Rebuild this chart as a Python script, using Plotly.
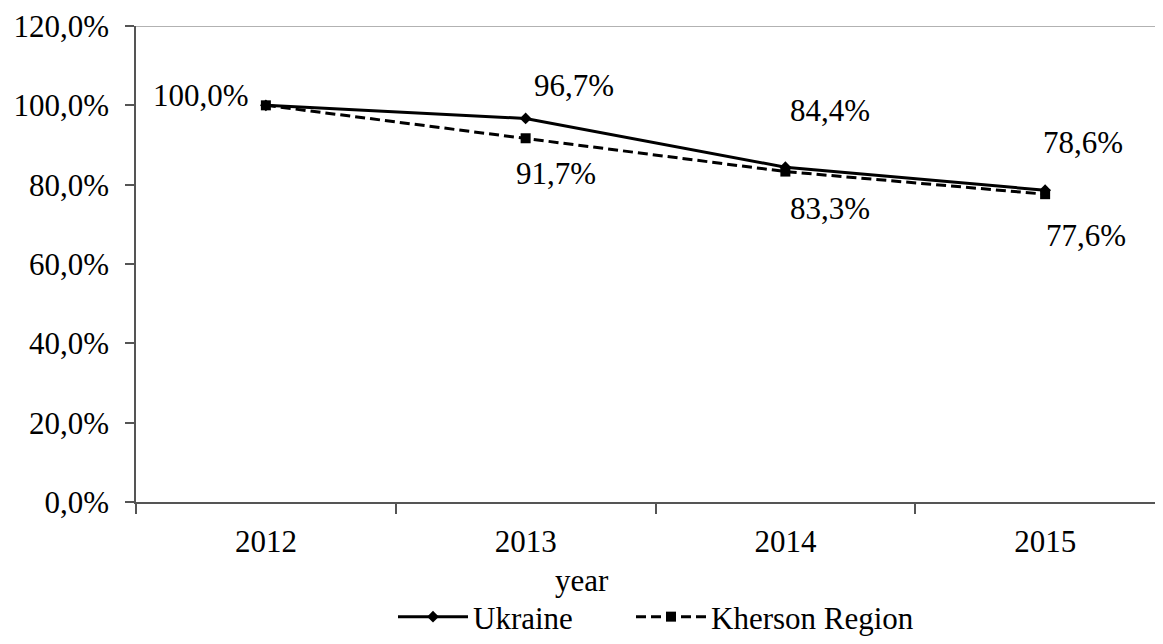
import plotly.graph_objects as go

years = ["2012", "2013", "2014", "2015"]
ukraine = [100.0, 96.7, 84.4, 78.6]
kherson = [100.0, 91.7, 83.3, 77.6]
y_ticks = [0, 20, 40, 60, 80, 100, 120]

FONT = "Liberation Serif"
FS = 31
xs = list(range(len(years)))

def fmt(v):
    return f"{v:.1f}%".replace(".", ",")

fig = go.Figure()
fig.add_trace(go.Scatter(
    x=xs, y=ukraine, name="Ukraine", mode="lines+markers",
    line=dict(color="black", width=3),
    marker=dict(symbol="diamond", size=9, color="black"),
    legend="legend",
))
fig.add_trace(go.Scatter(
    x=xs, y=kherson, name="Kherson Region", mode="lines+markers",
    line=dict(color="black", width=3, dash="10px,5px"),
    marker=dict(symbol="square", size=10, color="black"),
    legend="legend2",
))

# data labels: (series, index, xshift, yshift)
label_specs = [
    (ukraine, 0, -65, 10),
    (ukraine, 1, 48, 33),
    (ukraine, 2, 45, 57),
    (ukraine, 3, 38, 48),
    (kherson, 1, 30, -35),
    (kherson, 2, 45, -37),
    (kherson, 3, 41, -41),
]
for series, i, dx, dy in label_specs:
    fig.add_annotation(
        x=xs[i], y=series[i], text=fmt(series[i]), showarrow=False,
        xshift=dx, yshift=dy, font=dict(family=FONT, size=FS, color="black"),
    )

fig.add_annotation(
    x=0.434, y=-0.165, xref="paper", yref="paper", text="year", showarrow=False,
    font=dict(family=FONT, size=FS, color="black"), yanchor="middle",
)

# top line of plot area at max of y scale
fig.add_shape(type="line", xref="paper", yref="y", x0=0, x1=1,
              y0=y_ticks[-1], y1=y_ticks[-1], line=dict(color="#999999", width=1.5))

leg_common = dict(orientation="h", xanchor="left", y=-(609 - 494) / 476, yanchor="middle",
                  font=dict(family=FONT, size=FS), itemwidth=70,
                  bgcolor="rgba(0,0,0,0)")
fig.update_layout(
    width=1155, height=636,
    margin=dict(l=128, r=0, t=18, b=142, autoexpand=False),
    paper_bgcolor="white", plot_bgcolor="white",
    font=dict(family=FONT, size=FS, color="black"),
    showlegend=True,
    legend=dict(x=(393 - 136) / 1027, **leg_common),
    legend2=dict(x=(631 - 136) / 1027, **leg_common),
)
fig.update_xaxes(
    range=[-0.5, -0.5 + 1027 / 259.75], automargin=False,
    tickvals=xs, ticktext=years, ticks="", showgrid=False, zeroline=False,
    showline=True, linecolor="#555555", linewidth=1.5,
    ticklabelstandoff=11,
    minor=dict(tickvals=[-0.5, 0.5, 1.5, 2.5], ticks="outside", ticklen=10,
               tickcolor="#555555", tickwidth=1.5, showgrid=False),
)
fig.update_yaxes(
    range=[0, 120], tickvals=y_ticks, ticktext=[fmt(v) for v in y_ticks], automargin=False,
    ticks="outside", ticklen=9, tickcolor="#555555", tickwidth=1.5,
    showgrid=False, zeroline=False, showline=True, linecolor="#555555", linewidth=1.5,
    ticklabelstandoff=10,
)

fig.write_html("out.html")
